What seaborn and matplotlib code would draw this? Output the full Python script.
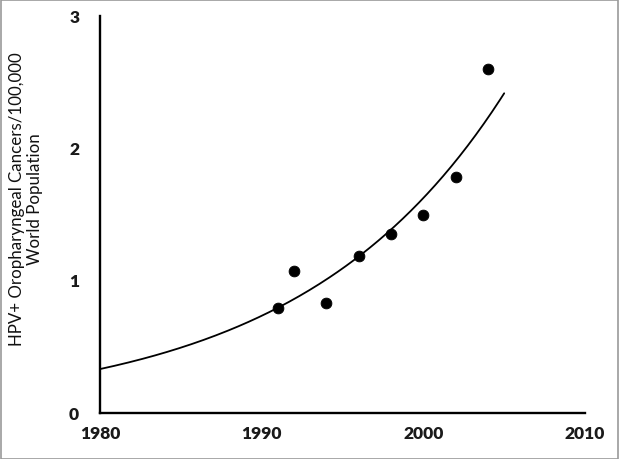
import numpy as np
import pandas as pd
import seaborn as sns
import matplotlib.pyplot as plt
from matplotlib.patches import Rectangle

years = [1991, 1992, 1994, 1996, 1998, 2000, 2002, 2004]
rates = [0.79, 1.07, 0.83, 1.19, 1.35, 1.50, 1.78, 2.60]
x_ticks = [1980, 1990, 2000, 2010]
y_ticks = [0, 1, 2, 3]
fit_start, fit_end = 1980, 2005

sns.set_style("white")
plt.rcParams['font.family'] = ['Lato', 'DejaVu Sans']

df = pd.DataFrame({"year": years, "rate": rates})

# exponential trendline, least squares on log(rate)
b, ln_a = np.polyfit(df["year"] - fit_start, np.log(df["rate"]), 1)
fit_x = np.linspace(fit_start, fit_end, 200)
fit = pd.DataFrame({"year": fit_x, "rate": np.exp(ln_a + b * (fit_x - fit_start))})

fig = plt.figure(figsize=(6.19, 4.59), dpi=100)
ax = fig.add_axes([0.1616, 0.1002, 0.7835, 0.8649])

sns.lineplot(data=fit, x="year", y="rate", color="black", linewidth=1.3, ax=ax)
sns.scatterplot(data=df, x="year", y="rate", color="black", s=60, edgecolor="black", ax=ax, zorder=3)

ax.set_xlim(1980, 2010)
ax.set_ylim(0, 3)
ax.set_xticks(x_ticks)
ax.set_yticks(y_ticks)
ax.tick_params(axis="both", direction="in", length=5, width=1.3, color="black",
               labelsize=12.5)
ax.tick_params(axis="y", pad=15)
ax.tick_params(axis="x", pad=9)
for lab in ax.get_xticklabels() + ax.get_yticklabels():
    lab.set_fontweight("heavy")
    lab.set_color("#1a1a1a")

sns.despine(ax=ax)
for side in ["left", "bottom"]:
    ax.spines[side].set_linewidth(1.7)
    ax.spines[side].set_color("black")

ax.set_xlabel("")
ax.set_ylabel("HPV+ Oropharyngeal Cancers/100,000\nWorld Population",
              fontsize=12.2, linespacing=1.15, color="#111111")
ax.yaxis.set_label_coords(-0.118, 0.539)

# thin grey frame round the picture
fig.patches.append(Rectangle((0.001, 0.001), 0.998, 0.998, transform=fig.transFigure,
                             fill=False, edgecolor="#9a9a9a", linewidth=1.2))

plt.savefig("out.png", dpi=100)
plt.close()
